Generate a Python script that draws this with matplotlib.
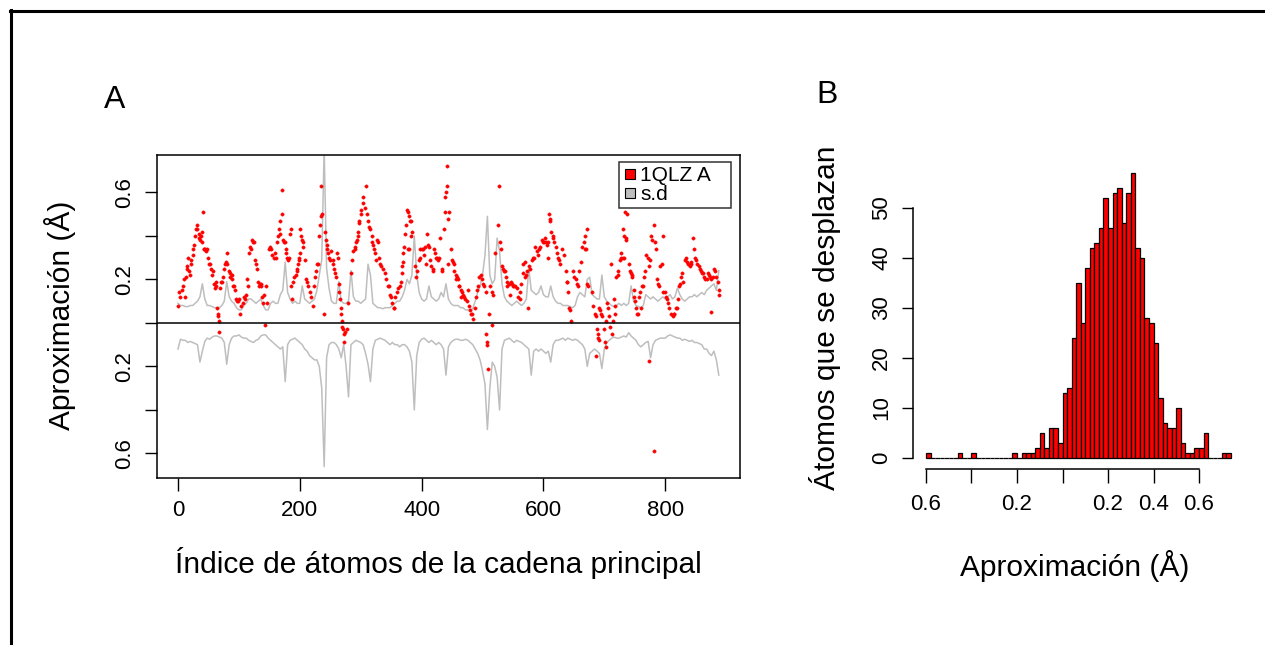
import numpy as np
import matplotlib
matplotlib.use("Agg")
import matplotlib.pyplot as plt
from matplotlib.lines import Line2D

plt.rcParams["font.family"] = ["Liberation Sans", "DejaVu Sans"]
TICK_FONT = ["Liberation Sans Narrow", "Liberation Sans", "DejaVu Sans"]

# --- panel A: approximation per backbone atom (index, value) ---
aprox_1qlz = [
    (0, 0.08), (2, 0.14), (4, 0.12), (6, 0.15), (8, 0.17), (10, 0.20), (11, 0.12),
    (13, 0.21), (14, 0.26), (15, 0.25), (16, 0.30), (18, 0.24), (19, 0.22), (21, 0.27),
    (22, 0.29), (24, 0.31), (25, 0.34), (26, 0.36), (28, 0.40), (29, 0.43), (31, 0.43),
    (32, 0.45), (34, 0.41), (35, 0.39), (36, 0.38), (37, 0.40), (39, 0.42), (40, 0.37),
    (41, 0.51), (42, 0.34), (43, 0.34), (44, 0.34), (46, 0.33), (47, 0.34), (49, 0.30),
    (51, 0.27), (52, 0.27), (54, 0.25), (56, 0.22), (58, 0.24), (59, 0.18), (60, 0.16),
    (62, 0.17), (63, 0.19), (64, 0.07), (65, 0.04), (66, 0.03), (67, 0.01), (68, -0.04),
    (69, 0.16), (71, 0.19), (72, 0.19), (74, 0.21), (75, 0.25), (77, 0.27), (78, 0.28),
    (80, 0.27), (81, 0.32), (83, 0.24), (85, 0.23), (86, 0.21), (88, 0.22), (89, 0.20),
    (91, 0.17), (92, 0.17), (94, 0.15), (95, 0.11), (97, 0.10), (98, 0.10), (100, 0.11),
    (102, 0.04), (104, 0.08), (106, 0.09), (108, 0.12), (110, 0.11), (112, 0.13),
    (114, 0.20), (115, 0.17), (117, 0.32), (118, 0.35), (120, 0.34), (121, 0.38),
    (123, 0.37), (125, 0.37), (127, 0.29), (128, 0.27), (130, 0.25), (131, 0.19),
    (133, 0.17), (134, 0.18), (136, 0.18), (137, 0.17), (138, 0.12), (140, 0.09),
    (142, 0.13), (143, -0.01), (144, 0.17), (146, 0.09), (149, 0.34), (151, 0.35),
    (153, 0.34), (155, 0.31), (157, 0.30), (159, 0.32), (161, 0.30), (163, 0.37),
    (164, 0.40), (166, 0.43), (167, 0.41), (168, 0.47), (170, 0.61), (171, 0.50),
    (172, 0.38), (174, 0.37), (176, 0.37), (177, 0.34), (178, 0.32), (179, 0.30),
    (181, 0.29), (183, 0.30), (184, 0.41), (185, 0.43), (186, 0.17), (187, 0.11),
    (189, 0.19), (191, 0.21), (193, 0.22), (195, 0.24), (196, 0.25), (197, 0.27),
    (198, 0.29), (199, 0.30), (200, 0.32), (201, 0.43), (202, 0.40), (203, 0.38),
    (205, 0.37), (206, 0.35), (208, 0.29), (210, 0.20), (212, 0.19), (214, 0.17),
    (216, 0.14), (219, 0.12), (221, 0.08), (223, 0.17), (225, 0.21), (226, 0.24),
    (228, 0.27), (230, 0.27), (232, 0.40), (233, 0.45), (234, 0.49), (235, 0.63),
    (236, 0.50), (239, 0.04), (241, 0.42), (243, 0.38), (244, 0.36), (245, 0.34),
    (247, 0.32), (248, 0.30), (250, 0.29), (252, 0.33), (254, 0.29), (255, 0.27),
    (256, 0.25), (258, 0.23), (260, 0.21), (261, 0.32), (263, 0.30), (264, 0.18),
    (265, 0.14), (266, 0.11), (267, 0.07), (268, 0.04), (269, 0.01), (270, -0.02),
    (271, -0.03), (272, -0.09), (273, -0.05), (275, -0.04), (277, -0.03), (279, 0.09),
    (284, 0.23), (286, 0.29), (288, 0.33), (290, 0.34), (291, 0.35), (293, 0.37),
    (294, 0.38), (295, 0.40), (296, 0.42), (297, 0.46), (298, 0.47), (300, 0.50),
    (301, 0.52), (303, 0.55), (304, 0.58), (307, 0.53), (309, 0.63), (310, 0.50),
    (312, 0.47), (314, 0.44), (316, 0.43), (318, 0.40), (319, 0.37), (320, 0.36),
    (322, 0.34), (323, 0.32), (325, 0.29), (327, 0.38), (328, 0.37), (330, 0.30),
    (332, 0.27), (334, 0.26), (337, 0.25), (340, 0.23), (342, 0.20), (344, 0.17),
    (346, 0.17), (348, 0.13), (350, 0.12), (352, 0.09), (354, 0.07), (355, 0.07),
    (357, 0.12), (359, 0.14), (362, 0.16), (364, 0.17), (366, 0.19), (367, 0.23),
    (368, 0.26), (369, 0.28), (370, 0.32), (371, 0.35), (373, 0.41), (374, 0.45),
    (376, 0.52), (377, 0.34), (378, 0.51), (379, 0.34), (380, 0.49), (381, 0.47),
    (382, 0.40), (383, 0.47), (385, 0.42), (389, 0.26), (391, 0.21), (393, 0.24),
    (395, 0.29), (397, 0.30), (398, 0.34), (400, 0.34), (402, 0.34), (404, 0.31),
    (406, 0.35), (408, 0.27), (409, 0.41), (410, 0.36), (412, 0.35), (414, 0.29),
    (416, 0.26), (418, 0.25), (419, 0.24), (420, 0.34), (422, 0.32), (424, 0.30),
    (425, 0.30), (427, 0.29), (429, 0.30), (431, 0.39), (433, 0.24), (434, 0.25),
    (437, 0.43), (438, 0.51), (439, 0.58), (440, 0.60), (441, 0.63), (442, 0.72),
    (443, 0.48), (444, 0.27), (445, 0.51), (448, 0.34), (450, 0.29), (451, 0.28),
    (453, 0.27), (454, 0.24), (456, 0.22), (457, 0.20), (458, 0.21), (459, 0.20),
    (461, 0.17), (462, 0.17), (464, 0.15), (465, 0.12), (466, 0.14), (468, 0.13),
    (470, 0.12), (472, 0.11), (474, 0.10), (476, 0.15), (477, 0.08), (479, 0.06),
    (481, 0.04), (483, 0.04), (485, 0.02), (487, 0.07), (489, 0.12), (491, 0.15),
    (493, 0.17), (495, 0.21), (497, 0.22), (499, 0.20), (501, 0.18), (503, 0.17),
    (505, 0.14), (506, -0.05), (507, -0.10), (508, -0.09), (509, -0.21), (511, 0.04),
    (513, 0.17), (515, 0.14), (516, -0.01), (517, 0.13), (520, 0.32), (526, 0.45),
    (527, 0.63), (528, 0.37), (530, 0.34), (532, 0.26), (534, 0.25), (536, 0.24),
    (537, 0.24), (538, 0.21), (540, 0.19), (541, 0.17), (543, 0.18), (545, 0.13),
    (546, 0.19), (548, 0.18), (550, 0.17), (552, 0.17), (554, 0.17), (556, 0.16),
    (559, 0.12), (561, 0.11), (562, 0.14), (564, 0.18), (566, 0.23), (567, 0.27),
    (569, 0.28), (570, 0.21), (572, 0.22), (573, 0.24), (575, 0.07), (577, 0.26),
    (578, 0.25), (581, 0.29), (583, 0.30), (585, 0.30), (587, 0.35), (589, 0.33),
    (591, 0.31), (593, 0.34), (595, 0.35), (597, 0.38), (599, 0.37), (601, 0.37),
    (603, 0.39), (605, 0.37), (606, 0.36), (607, 0.37), (608, 0.30), (609, 0.50),
    (610, 0.48), (611, 0.47), (613, 0.42), (615, 0.40), (616, 0.39), (618, 0.37),
    (620, 0.35), (622, 0.32), (624, 0.30), (626, 0.29), (628, 0.27), (630, 0.34),
    (633, 0.31), (637, 0.24), (638, 0.19), (639, 0.19), (640, 0.14), (642, 0.07),
    (644, 0.06), (646, 0.01), (649, 0.24), (651, 0.21), (653, 0.20), (655, 0.18),
    (657, 0.17), (659, 0.24), (661, 0.28), (664, 0.35), (666, 0.37), (668, 0.40),
    (669, 0.34), (670, 0.34), (671, 0.43), (672, 0.18), (674, 0.17), (679, 0.14),
    (682, 0.08), (685, 0.04), (686, -0.15), (687, 0.03), (688, -0.03), (689, -0.05),
    (690, -0.07), (691, 0.07), (692, -0.08), (693, 0.06), (695, 0.04), (697, 0.03),
    (700, -0.03), (701, -0.09), (702, -0.11), (703, 0.01), (704, 0.09), (706, 0.07),
    (708, 0.03), (710, -0.02), (711, 0.27), (712, -0.05), (714, 0.01), (716, 0.11),
    (717, 0.08), (718, 0.04), (720, 0.21), (722, 0.22), (723, 0.24), (725, 0.29),
    (727, 0.30), (728, 0.32), (730, 0.30), (731, 0.43), (732, 0.30), (733, 0.40),
    (734, 0.51), (735, 0.39), (736, 0.38), (738, 0.50), (740, 0.27), (742, 0.24),
    (743, 0.23), (745, 0.22), (746, 0.21), (748, 0.15), (749, 0.12), (751, 0.10),
    (752, 0.07), (754, 0.04), (755, 0.04), (757, 0.12), (758, 0.14), (760, 0.07),
    (762, 0.17), (764, 0.17), (765, 0.21), (767, 0.24), (769, 0.31), (771, 0.30),
    (773, 0.26), (774, -0.175), (775, 0.29), (777, 0.40), (779, 0.38), (781, -0.59),
    (782, 0.45), (784, 0.37), (785, 0.34), (786, 0.20), (788, 0.18), (790, 0.17),
    (792, 0.26), (794, 0.27), (796, 0.40), (797, 0.14), (799, 0.14), (801, 0.12),
    (803, 0.11), (805, 0.09), (807, 0.07), (810, 0.04), (812, 0.03), (814, 0.04),
    (815, 0.04), (817, 0.07), (819, 0.07), (821, 0.11), (822, 0.17), (824, 0.18),
    (826, 0.21), (828, 0.23), (829, 0.19), (832, 0.29), (834, 0.30), (836, 0.28),
    (838, 0.27), (840, 0.26), (842, 0.27), (843, 0.28), (846, 0.39), (847, 0.34),
    (849, 0.30), (851, 0.29), (853, 0.27), (855, 0.26), (857, 0.25), (858, 0.24),
    (860, 0.23), (862, 0.23), (864, 0.21), (866, 0.20), (868, 0.20), (870, 0.23),
    (872, 0.22), (874, 0.21), (875, 0.05), (876, 0.20), (878, 0.21), (880, 0.25),
    (882, 0.24), (884, 0.21), (886, 0.19), (888, 0.15), (889, 0.13),
]

# s.d. curves, one value every 4 atoms (0, 4, ..., 888)
sd_sup = [
    0.09, 0.08, 0.08, 0.075, 0.075, 0.08, 0.08, 0.09, 0.10, 0.12,
    0.18, 0.11, 0.08, 0.08, 0.075, 0.07, 0.07, 0.07, 0.08, 0.10,
    0.19, 0.12, 0.10, 0.09, 0.07, 0.06, 0.06, 0.08, 0.09, 0.11,
    0.11, 0.10, 0.09, 0.10, 0.11, 0.08, 0.06, 0.06, 0.09, 0.10,
    0.09, 0.09, 0.13, 0.15, 0.28, 0.14, 0.11, 0.09, 0.10, 0.09,
    0.09, 0.17, 0.11, 0.10, 0.09, 0.10, 0.11, 0.15, 0.22, 0.29,
    0.80, 0.25, 0.16, 0.10, 0.09, 0.09, 0.19, 0.10, 0.09, 0.09,
    0.10, 0.24, 0.12, 0.10, 0.10, 0.09, 0.10, 0.11, 0.27, 0.22,
    0.09, 0.08, 0.07, 0.07, 0.065, 0.07, 0.07, 0.07, 0.08, 0.09,
    0.10, 0.10, 0.12, 0.15, 0.20, 0.18, 0.22, 0.40, 0.22, 0.14,
    0.11, 0.10, 0.11, 0.17, 0.12, 0.11, 0.10, 0.11, 0.14, 0.12,
    0.18, 0.11, 0.09, 0.08, 0.08, 0.08, 0.07, 0.07, 0.06, 0.06,
    0.06, 0.065, 0.10, 0.14, 0.17, 0.22, 0.31, 0.49, 0.22, 0.18,
    0.20, 0.39, 0.33, 0.18, 0.12, 0.10, 0.09, 0.08, 0.09, 0.10,
    0.09, 0.08, 0.09, 0.11, 0.25, 0.15, 0.14, 0.13, 0.14, 0.17,
    0.13, 0.12, 0.12, 0.17, 0.12, 0.10, 0.09, 0.09, 0.08, 0.08,
    0.08, 0.075, 0.07, 0.08, 0.12, 0.14, 0.13, 0.12, 0.20, 0.21,
    0.13, 0.12, 0.11, 0.11, 0.22, 0.12, 0.10, 0.09, 0.08, 0.075,
    0.08, 0.09, 0.08, 0.09, 0.08, 0.09, 0.17, 0.10, 0.08, 0.075,
    0.07, 0.08, 0.13, 0.12, 0.11, 0.12, 0.11, 0.10, 0.11, 0.12,
    0.11, 0.12, 0.13, 0.11, 0.12, 0.16, 0.13, 0.11, 0.10, 0.11,
    0.12, 0.12, 0.13, 0.12, 0.13, 0.14, 0.13, 0.15, 0.16, 0.17,
    0.18, 0.15, 0.24,
]
sd_inf = [
    -0.12, -0.075, -0.08, -0.08, -0.09, -0.085, -0.09, -0.095, -0.10, -0.18,
    -0.13, -0.085, -0.07, -0.075, -0.065, -0.06, -0.06, -0.065, -0.07, -0.09,
    -0.19, -0.10, -0.07, -0.06, -0.06, -0.055, -0.065, -0.07, -0.07, -0.08,
    -0.085, -0.09, -0.08, -0.075, -0.06, -0.055, -0.055, -0.07, -0.08, -0.09,
    -0.10, -0.11, -0.12, -0.11, -0.27, -0.10, -0.08, -0.075, -0.07, -0.08,
    -0.09, -0.10, -0.12, -0.13, -0.15, -0.16, -0.17, -0.17, -0.20, -0.30,
    -0.66, -0.16, -0.10, -0.09, -0.09, -0.10, -0.12, -0.16, -0.10, -0.20,
    -0.34, -0.10, -0.09, -0.08, -0.085, -0.09, -0.10, -0.14, -0.19, -0.27,
    -0.12, -0.08, -0.075, -0.07, -0.075, -0.08, -0.09, -0.10, -0.09, -0.10,
    -0.10, -0.11, -0.10, -0.10, -0.11, -0.13, -0.18, -0.40, -0.15, -0.09,
    -0.075, -0.07, -0.08, -0.09, -0.08, -0.09, -0.10, -0.09, -0.10, -0.12,
    -0.24, -0.11, -0.09, -0.08, -0.075, -0.075, -0.08, -0.08, -0.075, -0.08,
    -0.09, -0.10, -0.12, -0.14, -0.17, -0.22, -0.28, -0.49, -0.30, -0.18,
    -0.20, -0.25, -0.40, -0.12, -0.08, -0.075, -0.07, -0.08, -0.09, -0.08,
    -0.085, -0.09, -0.10, -0.11, -0.12, -0.24, -0.13, -0.12, -0.13, -0.12,
    -0.13, -0.14, -0.13, -0.18, -0.10, -0.08, -0.08, -0.075, -0.07, -0.08,
    -0.07, -0.075, -0.08, -0.075, -0.08, -0.09, -0.10, -0.12, -0.20, -0.14,
    -0.13, -0.12, -0.13, -0.14, -0.21, -0.12, -0.09, -0.08, -0.07, -0.065,
    -0.07, -0.07, -0.065, -0.06, -0.065, -0.045, -0.06, -0.07, -0.08, -0.10,
    -0.11, -0.10, -0.09, -0.085, -0.16, -0.10, -0.08, -0.075, -0.07, -0.07,
    -0.07, -0.06, -0.055, -0.06, -0.065, -0.07, -0.07, -0.08, -0.075, -0.08,
    -0.085, -0.08, -0.09, -0.09, -0.095, -0.10, -0.12, -0.12, -0.14, -0.15,
    -0.13, -0.17, -0.24,
]
sd_paso = 4

# --- panel B: histogram counts, bins of 0.02 starting at -0.6 ---
hist_inicio = -0.6
hist_ancho = 0.02
hist_cuentas = [
    1, 0, 0, 0, 0, 0, 0, 1, 0, 0,
    1, 0, 0, 0, 0, 0, 0, 0, 0, 1,
    0, 1, 1, 1, 2, 5, 2, 6, 6, 3,
    13, 14, 24, 35, 27, 38, 42, 43, 46, 52,
    46, 53, 54, 47, 53, 57, 42, 40, 28, 27,
    23, 12, 7, 6, 6, 10, 3, 1, 1, 2,
    2, 5, 0, 0, 0, 1, 1,
]

ROJO = "#ff0000"
GRIS = "#bebebe"
LABEL_SIZE = 21.5
TICK_SIZE = 16

W, H = 1265, 645
fig = plt.figure(figsize=(W / 100, H / 100), dpi=100)


def fx(px):
    return px / W


def fy(py):
    return 1 - py / H


# outer frame (only top and left edges visible)
fig.add_artist(Line2D([fx(10), 1], [fy(11), fy(11)], transform=fig.transFigure,
                      color="black", lw=2.2))
fig.add_artist(Line2D([fx(11), fx(11)], [0, fy(10)], transform=fig.transFigure,
                      color="black", lw=2.2))

# ---------------- panel A ----------------
axA = fig.add_axes([fx(157), fy(478), fx(740) - fx(157), fy(155) - fy(478)])
sd_x = np.arange(len(sd_sup)) * sd_paso
axA.plot(sd_x, sd_sup, color=GRIS, lw=1.1, zorder=2)
axA.plot(sd_x, sd_inf, color=GRIS, lw=1.1, zorder=2)
idx, val = zip(*aprox_1qlz)
axA.plot(idx, val, linestyle="none", marker="o", markersize=2.4,
         markerfacecolor=ROJO, markeredgecolor=ROJO, markeredgewidth=0.3, zorder=3)
axA.axhline(0, color="black", lw=1.1, zorder=4)

axA.set_xlim(-34.5, 922.8)
axA.set_ylim(-0.713, 0.772)
axA.set_xticks([0, 200, 400, 600, 800])
axA.set_xticklabels(["0", "200", "400", "600", "800"])
axA.set_yticks([-0.6, -0.4, -0.2, 0, 0.2, 0.4, 0.6])
axA.set_yticklabels(["0.6", "", "0.2", "", "0.2", "", "0.6"])
axA.tick_params(axis="both", direction="out", length=9, width=1.0, labelsize=TICK_SIZE)
axA.tick_params(axis="x", pad=7)
axA.tick_params(axis="y", labelrotation=90, pad=7)
for lab in axA.get_xticklabels() + axA.get_yticklabels():
    lab.set_fontfamily(TICK_FONT)
for lab in axA.get_yticklabels():
    lab.set_va("center")
for sp in axA.spines.values():
    sp.set_linewidth(1.1)

axA.set_xlabel("Índice de átomos de la cadena principal", fontsize=LABEL_SIZE)
axA.xaxis.set_label_coords((438 - 157) / 583, (478 - 563) / 323)
axA.xaxis.label.set_va("center")
axA.set_ylabel("Aproximación (Å)", fontsize=LABEL_SIZE)
axA.yaxis.set_label_coords((60 - 157) / 583, (478 - 315) / 323)
axA.yaxis.label.set_va("center")

handles = [
    Line2D([], [], linestyle="none", marker="s", markersize=6.5,
           markerfacecolor=ROJO, markeredgecolor="black", markeredgewidth=0.8),
    Line2D([], [], linestyle="none", marker="s", markersize=6.5,
           markerfacecolor=GRIS, markeredgecolor="black", markeredgewidth=0.8),
]
leg = axA.legend(handles, ["1QLZ A   ", "s.d"], loc="upper right",
                 bbox_to_anchor=((731 - 157) / 583, (478 - 162) / 323),
                 frameon=True, fancybox=False, fontsize=15, handlelength=0.6,
                 handletextpad=0.2, borderpad=0.2, labelspacing=0.0,
                 borderaxespad=0.0)
leg.get_frame().set_edgecolor("black")
leg.get_frame().set_linewidth(1.1)

fig.text(fx(115), fy(100), "A", fontsize=23, ha="center", va="center")

# ---------------- panel B ----------------
axB = fig.add_axes([fx(913), fy(469), fx(1240) - fx(913), fy(160) - fy(469)])
bordes = hist_inicio + hist_ancho * np.arange(len(hist_cuentas))
axB.bar(bordes, hist_cuentas, width=hist_ancho, align="edge", color=ROJO,
        edgecolor="black", linewidth=0.9)
axB.set_xlim(-0.657, 0.78)
axB.set_ylim(-2.26, 59.5)
axB.spines["top"].set_visible(False)
axB.spines["right"].set_visible(False)
axB.spines["left"].set_bounds(0, 50)
axB.spines["bottom"].set_bounds(-0.6, 0.6)
axB.spines["left"].set_linewidth(1.1)
axB.spines["bottom"].set_linewidth(1.1)
axB.set_xticks([-0.6, -0.4, -0.2, 0.0, 0.2, 0.4, 0.6])
axB.set_xticklabels(["0.6", "", "0.2", "", "0.2", "0.4", "0.6"])
axB.set_yticks([0, 10, 20, 30, 40, 50])
axB.set_yticklabels(["0", "10", "20", "30", "40", "50"])
axB.tick_params(axis="both", direction="out", width=1.0, labelsize=TICK_SIZE)
axB.tick_params(axis="x", length=10, pad=8)
axB.tick_params(axis="y", length=8, pad=7, labelrotation=90)
for lab in axB.get_xticklabels() + axB.get_yticklabels():
    lab.set_fontfamily(TICK_FONT)
for lab in axB.get_yticklabels():
    lab.set_va("center")

axB.set_xlabel("Aproximación (Å)", fontsize=LABEL_SIZE)
axB.xaxis.set_label_coords((1075 - 913) / 327, (469 - 566) / 309)
axB.xaxis.label.set_va("center")
axB.set_ylabel("Átomos que se desplazan", fontsize=LABEL_SIZE)
axB.yaxis.set_label_coords((825 - 913) / 327, (469 - 318) / 309)
axB.yaxis.label.set_va("center")

fig.text(fx(827), fy(95), "B", fontsize=23, ha="center", va="center")

fig.savefig("out.png", dpi=100)
